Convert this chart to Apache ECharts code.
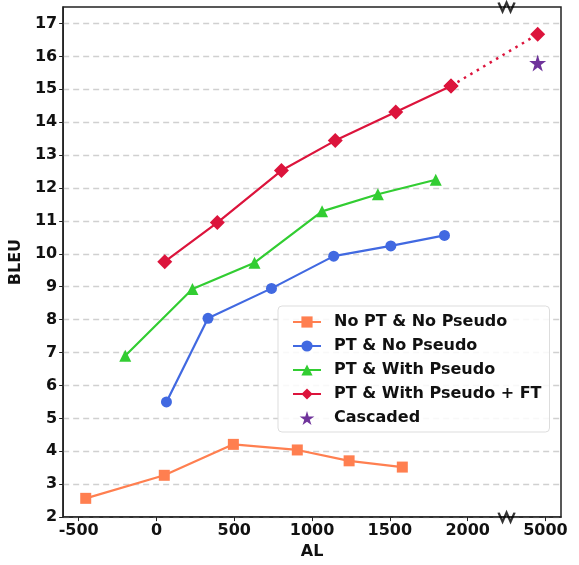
<!DOCTYPE html>
<html>
<head>
<meta charset="utf-8">
<script src="https://cdn.jsdelivr.net/npm/echarts@6/dist/echarts.min.js"></script>
<style>
  html, body { margin: 0; padding: 0; background: #fff; }
  #chart { width: 579px; height: 565px; }
</style>
</head>
<body>
<div id="chart"></div>
<script>
// AL values (x) and BLEU values (y)
const noPtAL = [-455, 50, 494, 905, 1238, 1580]
const noPtBleu = [2.57, 3.27, 4.21, 4.04, 3.71, 3.52]

const ptAL = [64, 331, 739, 1139, 1506, 1851]
const ptBleu = [5.5, 8.04, 8.95, 9.93, 10.24, 10.56]

const ptPseudoAL = [-201, 231, 630, 1064, 1423, 1795]
const ptPseudoBleu = [6.9, 8.93, 9.73, 11.29, 11.81, 12.25]

const ftAL = [53, 391, 803, 1149, 1538, 1893]
const ftBleu = [9.76, 10.95, 12.53, 13.44, 14.31, 15.1]
// last FT point sits beyond the axis break, joined by a dotted line
const ftFarAL = 4950
const ftFarBleu = 16.67

const cascadedAL = [4950]
const cascadedBleu = [15.8]

const xTicks = [-500, 0, 500, 1000, 1500, 2000, 5000]
const yTicks = [2, 3, 4, 5, 6, 7, 8, 9, 10, 11, 12, 13, 14, 15, 16, 17]

// broken x axis: everything past the break is shifted left by 2500
const BREAK_AT = 2250
const brokenX = v => (v > BREAK_AT ? v - 2500 : v)
const pts = (xs, ys) => xs.map((x, i) => [brokenX(x), ys[i]])

const star = 'path://M50,0 L61,35 L98,35 L68,57 L79,91 L50,70 L21,91 L32,57 L2,35 L39,35 Z'
const zigzag = 'path://M0,2 L4,10 L8,2 L12,10 L16,2'

const font = 'DejaVu Sans'
const chart = echarts.init(document.getElementById('chart'))

const lineSeries = (name, data, color, symbol, size) => ({
  name,
  type: 'line',
  data,
  symbol,
  symbolSize: size,
  itemStyle: { color },
  lineStyle: { color, width: 2.2 },
  z: 3
})

const ftPts = pts(ftAL, ftBleu)

chart.setOption({
  animation: false,
  grid: {
    left: 60, right: 18, top: 7, bottom: 41,
    show: true, borderColor: '#222', borderWidth: 1.5
  },
  xAxis: {
    type: 'value',
    min: -600,
    max: 2600,
    name: 'AL',
    nameLocation: 'middle',
    nameGap: 26,
    nameTextStyle: { fontFamily: font, fontWeight: 'bold', fontSize: 16, color: '#111' },
    axisLine: { onZero: false, lineStyle: { color: '#222', width: 1.5 } },
    axisTick: { show: true, length: 4, customValues: xTicks.map(brokenX), lineStyle: { color: '#222' } },
    axisLabel: {
      customValues: xTicks.map(brokenX),
      formatter: v => (v > 2250 ? String(v + 2500) : String(v)),
      fontFamily: font, fontWeight: 'bold', fontSize: 16, color: '#111', margin: 6
    },
    splitLine: { show: false }
  },
  yAxis: {
    type: 'value',
    min: 2,
    max: 17.5,
    name: 'BLEU',
    nameLocation: 'middle',
    nameGap: 38,
    nameTextStyle: { fontFamily: font, fontWeight: 'bold', fontSize: 16, color: '#111' },
    axisLine: { onZero: false, lineStyle: { color: '#222', width: 1.5 } },
    axisTick: { show: true, length: 4, customValues: yTicks, lineStyle: { color: '#222' } },
    axisLabel: {
      customValues: yTicks,
      fontFamily: font, fontWeight: 'bold', fontSize: 16, color: '#111', margin: 6
    },
    splitLine: { show: true, lineStyle: { color: '#d0d0d0', type: [6, 4], width: 1.3 } }
  },
  legend: {
    orient: 'vertical',
    left: 278,
    top: 306,
    data: [
      'No PT & No Pseudo',
      'PT & No Pseudo',
      'PT & With Pseudo',
      'PT & With Pseudo + FT',
      'Cascaded'
    ],
    itemWidth: 28,
    itemHeight: 14,
    itemGap: 8,
    padding: [8, 8, 6, 14],
    backgroundColor: 'rgba(255,255,255,0.85)',
    borderColor: '#dddddd',
    borderWidth: 1,
    borderRadius: 4,
    textStyle: {
      fontFamily: font, fontWeight: 'bold', fontSize: 16, color: '#111',
      padding: [0, 0, 0, 8]
    }
  },
  series: [
    lineSeries('No PT & No Pseudo', pts(noPtAL, noPtBleu), '#FF7F50', 'rect', 11),
    lineSeries('PT & No Pseudo', pts(ptAL, ptBleu), '#4169E1', 'circle', 11),
    lineSeries('PT & With Pseudo', pts(ptPseudoAL, ptPseudoBleu), '#32CD32', 'triangle', 12),
    lineSeries('PT & With Pseudo + FT', ftPts, '#DC143C', 'diamond', 15),
    {
      name: 'PT & With Pseudo + FT',
      type: 'line',
      data: [ftPts[ftPts.length - 1], [brokenX(ftFarAL), ftFarBleu]],
      symbol: 'diamond',
      symbolSize: 15,
      itemStyle: { color: '#DC143C' },
      lineStyle: { color: '#DC143C', width: 2.5, type: [2.5, 5] },
      z: 3
    },
    {
      name: 'Cascaded',
      type: 'scatter',
      data: pts(cascadedAL, cascadedBleu),
      symbol: star,
      symbolSize: 17,
      itemStyle: { color: '#4B0082' },
      z: 4
    },
    {
      // axis-break markers on the top and bottom spines
      name: 'break',
      type: 'scatter',
      data: [[BREAK_AT, 2], [BREAK_AT, 17.5]],
      symbol: zigzag,
      symbolSize: [16, 9],
      itemStyle: { color: 'transparent', borderColor: '#000', borderWidth: 1.8 },
      clip: false,
      silent: true,
      z: 5
    }
  ]
})
</script>
</body>
</html>
